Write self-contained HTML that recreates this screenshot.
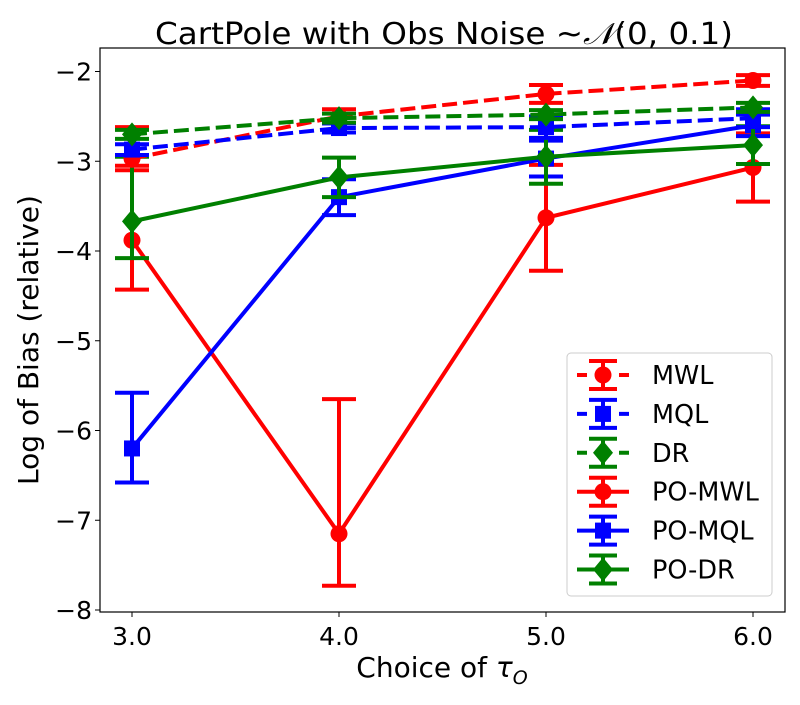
<!DOCTYPE html>
<html><head><meta charset="utf-8"><style>
body{margin:0;background:#fff;width:800px;height:700px;overflow:hidden}
svg{font-family:"DejaVu Sans","Liberation Sans",sans-serif}
</style></head><body>
<svg id="c" width="800" height="700"></svg>
<script>
const xCats=[3.0,4.0,5.0,6.0];
const xTickLabels=["3.0","4.0","5.0","6.0"];
const yTicks=[-2,-3,-4,-5,-6,-7,-8];
const seriesNames=["MWL","MQL","DR","PO-MWL","PO-MQL","PO-DR"];
const mwl=[-2.97,-2.5,-2.25,-2.1], mwlLo=[-3.05,-2.58,-2.35,-2.16], mwlHi=[-2.62,-2.42,-2.15,-2.04];
const mql=[-2.87,-2.63,-2.62,-2.52], mqlLo=[-2.93,-2.68,-2.74,-2.62], mqlHi=[-2.81,-2.58,-2.5,-2.42];
const dr=[-2.7,-2.52,-2.48,-2.4], drLo=[-2.75,-2.57,-2.53,-2.45], drHi=[-2.65,-2.47,-2.43,-2.35];
const pomwl=[-3.88,-7.15,-3.63,-3.07], pomwlLo=[-4.43,-7.73,-4.22,-3.45], pomwlHi=[-3.1,-5.65,-3.04,-2.69];
const pomql=[-6.2,-3.4,-2.97,-2.6], pomqlLo=[-6.58,-3.6,-3.17,-2.72], pomqlHi=[-5.58,-3.2,-2.77,-2.48];
const podr=[-3.67,-3.18,-2.95,-2.82], podrLo=[-4.08,-3.4,-3.25,-3.03], podrHi=[-2.95,-2.96,-2.65,-2.61];

const L=100,R=785,T=48,B=612;
const xs=v=>132+(v-3)*207;
const ys=v=>71.5+(-2-v)*89.75;
const svg=document.getElementById('c');
const NS='http://www.w3.org/2000/svg';
function mk(tag,attrs,parent){const e=document.createElementNS(NS,tag);for(const k in attrs)e.setAttribute(k,attrs[k]);(parent||svg).appendChild(e);return e;}

let t=mk('text',{x:155,y:44,'font-size':30,textLength:578,lengthAdjust:'spacingAndGlyphs'});


t.innerHTML='CartPole with Obs Noise  ~<tspan font-style="italic" font-family="DejaVu Serif, serif">\u{1D4A9}</tspan>(0, 0.1)';

const plot=mk('g',{});



xCats.forEach((v,i)=>{
  mk('line',{x1:xs(v),x2:xs(v),y1:B,y2:B+5,stroke:'#000','stroke-width':1});
  const tl=mk('text',{x:xs(v),y:B+33,'font-size':25,'text-anchor':'middle'});
  
  
  tl.textContent=xTickLabels[i];
});
yTicks.forEach(v=>{
  mk('line',{x1:L-5,x2:L,y1:ys(v),y2:ys(v),stroke:'#000','stroke-width':1});
  const tl=mk('text',{x:L-8,y:ys(v)+9,'font-size':25,'text-anchor':'end'});
  
  
  tl.textContent='\u2212'+Math.abs(v);
});
let xl=mk('text',{x:442,y:677,'font-size':28,'text-anchor':'middle'});


xl.innerHTML='Choice of <tspan font-style="italic">τ</tspan><tspan font-style="italic" font-size="19" dy="7">O</tspan>';
let yl=mk('text',{x:0,y:0,'font-size':28,'text-anchor':'middle',transform:'translate(38,340) rotate(-90)'});


yl.textContent='Log of Bias (relative)';

const S=[
 {n:0,v:mwl,lo:mwlLo,hi:mwlHi,c:'#ff0000',d:true,m:'o'},
 {n:1,v:mql,lo:mqlLo,hi:mqlHi,c:'#0000ff',d:true,m:'s'},
 {n:2,v:dr,lo:drLo,hi:drHi,c:'#008000',d:true,m:'D'},
 {n:3,v:pomwl,lo:pomwlLo,hi:pomwlHi,c:'#ff0000',d:false,m:'o'},
 {n:4,v:pomql,lo:pomqlLo,hi:pomqlHi,c:'#0000ff',d:false,m:'s'},
 {n:5,v:podr,lo:podrLo,hi:podrHi,c:'#008000',d:false,m:'D'}
];
function marker(g,m,x,y,c){
  if(m==='o')return mk('circle',{cx:x,cy:y,r:8.5,fill:c},g);
  if(m==='s')return mk('rect',{x:x-8,y:y-8,width:16,height:16,fill:c},g);
  return mk('polygon',{points:`${x},${y-12} ${x+10},${y} ${x},${y+12} ${x-10},${y}`,fill:c},g);
}
[3,4,5,0,1,2].forEach(k=>{
  const s=S[k];
  const g=mk('g',{},plot);
  
  
  s.v.forEach((v,i)=>{
    const x=xs(xCats[i]);
    mk('line',{x1:x,x2:x,y1:ys(s.lo[i]),y2:ys(s.hi[i]),stroke:s.c,'stroke-width':4},g);
    mk('line',{x1:x-17,x2:x+17,y1:ys(s.lo[i]),y2:ys(s.lo[i]),stroke:s.c,'stroke-width':4},g);
    mk('line',{x1:x-17,x2:x+17,y1:ys(s.hi[i]),y2:ys(s.hi[i]),stroke:s.c,'stroke-width':4},g);
  });
  const pts=s.v.map((v,i)=>xs(xCats[i])+','+ys(v)).join(' ');
  const pl=mk('polyline',{points:pts,fill:'none',stroke:s.c,'stroke-width':4,'stroke-dasharray':s.d?'15,6':'none'},g);
  
  
  s.v.forEach((v,i)=>{
    const mm=marker(g,s.m,xs(xCats[i]),ys(v),s.c);
    
    
  });
});
mk('rect',{x:L,y:T,width:R-L,height:B-T,fill:'none',stroke:'#000','stroke-width':1.2});

const lg=mk('g',{});


mk('rect',{x:567,y:353,width:205,height:243,rx:4,fill:'#fff','fill-opacity':0.8,stroke:'#ccc','stroke-width':1},lg);
S.forEach((s,i)=>{
  const y=375+i*38.9;
  const e=mk('g',{},lg);
  
  
  const cx=603;
  mk('line',{x1:cx-26,x2:cx+26,y1:y,y2:y,stroke:s.c,'stroke-width':4,'stroke-dasharray':s.d?'10,8,16,8,10':'none'},e);
  mk('line',{x1:cx,x2:cx,y1:y-14,y2:y+14,stroke:s.c,'stroke-width':4},e);
  mk('line',{x1:cx-14,x2:cx+14,y1:y-14,y2:y-14,stroke:s.c,'stroke-width':4},e);
  mk('line',{x1:cx-14,x2:cx+14,y1:y+14,y2:y+14,stroke:s.c,'stroke-width':4},e);
  marker(e,s.m,cx,y,s.c);
  const tx=mk('text',{x:652,y:y+9,'font-size':25.5},e);
  tx.textContent=seriesNames[s.n];
});
</script>
</body></html>
